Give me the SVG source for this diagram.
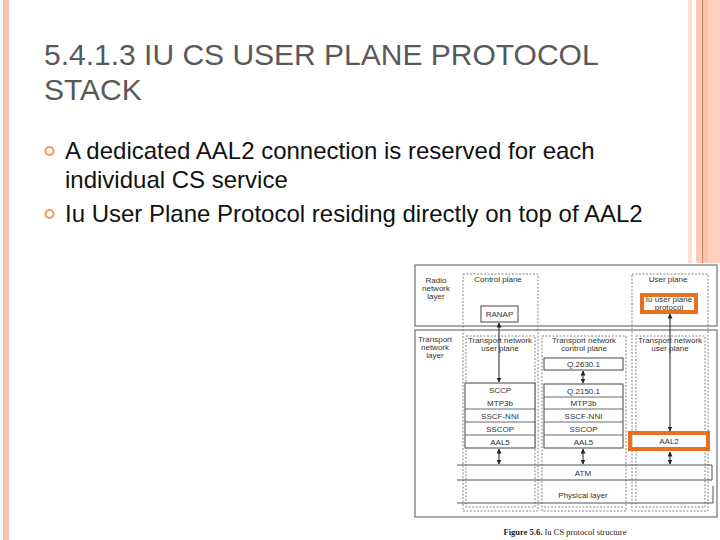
<svg xmlns="http://www.w3.org/2000/svg" width="720" height="540" viewBox="0 0 720 540">
<defs>
<style>
.title{font-family:"Liberation Sans",Arial,sans-serif;font-size:30px;fill:#595959}
.body{font-family:"Liberation Sans",Arial,sans-serif;font-size:24px;fill:#111}
.ft{font-family:"Liberation Sans",Arial,sans-serif;font-size:8px;fill:#333;text-anchor:middle}
.frame{fill:none;stroke:#555;stroke-width:1}
.dash{fill:none;stroke:#666;stroke-width:0.8;stroke-dasharray:2 1.5}
.box{fill:#fff;stroke:#444;stroke-width:1}
.sep{stroke:#444;stroke-width:0.8}
.hl{fill:none;stroke:#e8701f;stroke-width:4}
.ln{stroke:#555;stroke-width:1;fill:none}
.arr{stroke:#222;stroke-width:1;fill:none;marker-start:url(#ah);marker-end:url(#ah)}
.bul{fill:none;stroke:#eb9a5c;stroke-width:2}
.cap{font-family:"Liberation Serif","Times New Roman",serif;font-size:8.5px;fill:#222;text-anchor:middle}
</style>
<marker id="ah" viewBox="0 0 10 10" refX="9" refY="5" markerWidth="5" markerHeight="5" orient="auto-start-reverse" markerUnits="userSpaceOnUse">
<path d="M0,0 L10,5 L0,10 z" fill="#222"/>
</marker>
</defs>
<rect width="720" height="540" fill="#fff"/>
<g id="decor">
<rect x="3" y="0" width="6" height="540" fill="#f6c4ae"/>
<rect x="688" y="0" width="4" height="263" fill="#fde0d2"/>
<rect x="696" y="0" width="6" height="263" fill="#fccab5"/>
<rect x="702" y="0" width="1.5" height="263" fill="#c8875f"/>
<rect x="703.5" y="0" width="4.5" height="263" fill="#fbc2a9"/>
<rect x="708" y="0" width="12" height="263" fill="#ffd0c0"/>
</g>
<g id="title">
<text class="title" x="44" y="65">5.4.1.3 IU CS USER PLANE PROTOCOL</text>
<text class="title" x="44" y="100">STACK</text>
</g>
<g id="bullets">
<circle class="bul" cx="49.5" cy="151" r="4"/>
<text class="body" x="65" y="159">A dedicated AAL2 connection is reserved for each</text>
<text class="body" x="65" y="188">individual CS service</text>
<circle class="bul" cx="49.5" cy="214" r="4"/>
<text class="body" x="65" y="222">Iu User Plane Protocol residing directly on top of AAL2</text>
</g>
<g id="figure">
<rect x="415" y="263" width="305" height="277" fill="#fff"/>
<g id="radio-layer">
<rect class="frame" x="415" y="265" width="302" height="61"/>
<text class="ft" x="436" y="283">Radio</text>
<text class="ft" x="436" y="291">network</text>
<text class="ft" x="436" y="299">layer</text>
</g>
<g id="transport-layer">
<rect class="frame" x="415" y="330" width="302" height="187"/>
<text class="ft" x="435" y="342">Transport</text>
<text class="ft" x="435" y="350">network</text>
<text class="ft" x="435" y="358">layer</text>
</g>
<g id="columns">
<rect class="dash" x="463" y="274" width="75" height="237"/>
<rect class="dash" x="632" y="274" width="76" height="237"/>
<rect class="dash" x="466" y="336" width="69" height="171"/>
<rect class="dash" x="542" y="336" width="84" height="175"/>
<line class="dash" x1="544" y1="507" x2="624" y2="507"/>
<rect class="dash" x="636" y="336" width="69" height="171"/>
<text class="ft" x="498" y="282">Control plane</text>
<text class="ft" x="668" y="282">User plane</text>
<text class="ft" x="500" y="343">Transport network</text>
<text class="ft" x="500" y="351">user plane</text>
<text class="ft" x="584" y="343">Transport network</text>
<text class="ft" x="584" y="351">control plane</text>
<text class="ft" x="670" y="343">Transport network</text>
<text class="ft" x="670" y="351">user plane</text>
</g>
<g id="ranap">
<rect class="box" x="481" y="306" width="37" height="16" stroke="#777"/>
<text class="ft" x="499.5" y="317">RANAP</text>
</g>
<g id="iu-up">
<rect x="642" y="295" width="54" height="17" fill="#fff"/>
<text class="ft" x="669" y="302">Iu user plane</text>
<text class="ft" x="669" y="310">protocol</text>
<rect class="hl" x="642" y="295" width="54" height="17"/>
</g>
<g id="q2630">
<rect class="box" x="544" y="358" width="79" height="12"/>
<text class="ft" x="583.5" y="367">Q.2630.1</text>
</g>
<g id="stack1">
<rect class="box" x="465" y="383" width="70" height="65"/>
<line class="sep" x1="465" y1="409" x2="535" y2="409"/>
<line class="sep" x1="465" y1="422" x2="535" y2="422"/>
<line class="sep" x1="465" y1="435" x2="535" y2="435"/>
<text class="ft" x="500" y="393">SCCP</text>
<text class="ft" x="500" y="406">MTP3b</text>
<text class="ft" x="500" y="419">SSCF-NNI</text>
<text class="ft" x="500" y="432">SSCOP</text>
<text class="ft" x="500" y="445">AAL5</text>
</g>
<g id="stack2">
<rect class="box" x="544" y="384" width="79" height="64"/>
<line class="sep" x1="544" y1="397" x2="623" y2="397"/>
<line class="sep" x1="544" y1="409" x2="623" y2="409"/>
<line class="sep" x1="544" y1="422" x2="623" y2="422"/>
<line class="sep" x1="544" y1="435" x2="623" y2="435"/>
<text class="ft" x="583.5" y="394">Q.2150.1</text>
<text class="ft" x="583.5" y="406">MTP3b</text>
<text class="ft" x="583.5" y="419">SSCF-NNI</text>
<text class="ft" x="583.5" y="432">SSCOP</text>
<text class="ft" x="583.5" y="445">AAL5</text>
</g>
<g id="aal2">
<rect x="632" y="434" width="75" height="14" fill="#fff" stroke="#999" stroke-width="0.8"/>
<text class="ft" x="669" y="444">AAL2</text>
<rect class="hl" x="630" y="433" width="78" height="16"/>
</g>
<g id="atm">
<line class="ln" x1="457" y1="465" x2="712" y2="465"/>
<line class="ln" x1="457" y1="480" x2="712" y2="480"/>
<line class="ln" x1="712" y1="465" x2="712" y2="480"/>
<text class="ft" x="583" y="476">ATM</text>
</g>
<g id="physical">
<line class="ln" x1="457" y1="503" x2="713" y2="503"/>
<line class="ln" x1="713" y1="486" x2="713" y2="503"/>
<text class="ft" x="583" y="498">Physical layer</text>
</g>
<g id="connectors">
<line class="arr" x1="499" y1="323" x2="499" y2="382"/>
<line class="arr" x1="670" y1="314" x2="670" y2="431"/>
<line class="arr" x1="583" y1="371" x2="583" y2="383"/>
<line class="arr" x1="499" y1="449" x2="499" y2="464"/>
<line class="arr" x1="583" y1="449" x2="583" y2="464"/>
<line class="arr" x1="670" y1="452" x2="670" y2="464"/>
</g>
<text class="cap" x="565" y="535"><tspan font-weight="bold">Figure 5.6.</tspan> Iu CS protocol structure</text>
</g>
</svg>
